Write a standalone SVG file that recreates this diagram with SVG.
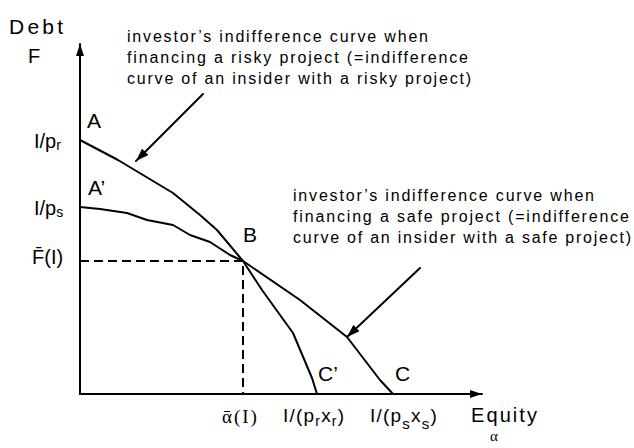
<svg xmlns="http://www.w3.org/2000/svg" width="634" height="448" viewBox="0 0 634 448">
<defs>
<style>
.t{font-family:"Liberation Sans",Arial,sans-serif;fill:#000}
.s{font-family:"Liberation Serif","Times New Roman",serif;fill:#000}
.ann{font-size:16px}
.lbl{font-size:21px}
.ax{font-size:20px}
.ln{fill:none;stroke:#000;stroke-width:2;stroke-linejoin:round;stroke-linecap:round}
.dash{fill:none;stroke:#000;stroke-width:2;stroke-dasharray:9 5}
</style>
<marker id="ah" viewBox="0 0 12 8" refX="12" refY="4" markerWidth="12" markerHeight="8" markerUnits="userSpaceOnUse" orient="auto">
<path d="M0,0 L12,4 L0,8 z" fill="#000"/>
</marker>
<marker id="ah2" viewBox="0 0 13 9" refX="13" refY="4.5" markerWidth="13" markerHeight="9" markerUnits="userSpaceOnUse" orient="auto">
<path d="M0,0 L13,4.5 L0,9 z" fill="#000"/>
</marker>
</defs>
<rect width="634" height="448" fill="#fff"/>

<g id="axes">
<line class="ln" x1="80" y1="394" x2="80" y2="44" stroke-linecap="butt" marker-end="url(#ah)"/>
<line class="ln" x1="80" y1="394" x2="482" y2="394" stroke-linecap="butt" marker-end="url(#ah)"/>
<text class="t" x="9" y="34" font-size="21" textLength="54" lengthAdjust="spacing">Debt</text>
<text class="t ax" x="28" y="63">F</text>
<text class="t" x="471" y="422" font-size="20" textLength="66" lengthAdjust="spacing">Equity</text>
<text class="s" x="490" y="441" font-size="15">α</text>
</g>

<g id="guides">
<path class="dash" d="M80,261 H243 V394"/>
</g>

<g id="risky-curve">
<path class="ln" d="M80,140 L118,160 L173,193 L200,215 L217,230 L243,261 L262,290 L293,333 L312,378 L317,394"/>
</g>

<g id="safe-curve">
<path class="ln" d="M80,207 L100,209 L127,213 L147,220 L173,225 L190,235 L210,242 L230,255 L243,261 L300,300 L347,337 L380,380 L393,394"/>
</g>

<g id="connectors">
<line class="ln" x1="203" y1="94" x2="136" y2="161" stroke-linecap="butt" marker-end="url(#ah2)"/>
<line class="ln" x1="420" y1="268" x2="347" y2="337" stroke-linecap="butt" marker-end="url(#ah2)"/>
</g>

<g id="point-labels">
<text class="t lbl" x="87" y="128">A</text>
<text class="t lbl" x="88" y="195">A’</text>
<text class="t lbl" x="243" y="242">B</text>
<text class="t lbl" x="318" y="381">C’</text>
<text class="t lbl" x="395" y="381">C</text>
</g>

<g id="axis-values">
<text class="t ax" x="34" y="148">I/p<tspan font-size="14" dy="2">r</tspan></text>
<text class="t ax" x="34" y="215">I/p<tspan font-size="14" dy="2">s</tspan></text>
<text class="t ax" x="32" y="264">F̄(I)</text>
<text class="s" x="222" y="423" font-size="19" letter-spacing="2">ᾱ(Ι)</text>
<text class="t" x="283" y="422" font-size="19" letter-spacing="1.2">I/(p<tspan font-size="14" dy="4">r</tspan><tspan dy="-4">x</tspan><tspan font-size="14" dy="4">r</tspan><tspan dy="-4">)</tspan></text>
<text class="t" x="370" y="422" font-size="19" letter-spacing="1.2">I/(p<tspan font-size="15" dy="7">s</tspan><tspan dy="-7">x</tspan><tspan font-size="15" dy="7">s</tspan><tspan dy="-7">)</tspan></text>
</g>

<g id="note-risky">
<text class="t ann" x="127" y="42" textLength="301" lengthAdjust="spacing">investor’s indifference curve when</text>
<text class="t ann" x="127" y="63" textLength="341" lengthAdjust="spacing">financing a risky project (=indifference</text>
<text class="t ann" x="127" y="84" textLength="344" lengthAdjust="spacing">curve of an insider with a risky project)</text>
</g>

<g id="note-safe">
<text class="t ann" x="293" y="201" textLength="301" lengthAdjust="spacing">investor’s indifference curve when</text>
<text class="t ann" x="293" y="222" textLength="336" lengthAdjust="spacing">financing a safe project (=indifference</text>
<text class="t ann" x="293" y="243" textLength="338" lengthAdjust="spacing">curve of an insider with a safe project)</text>
</g>
</svg>
